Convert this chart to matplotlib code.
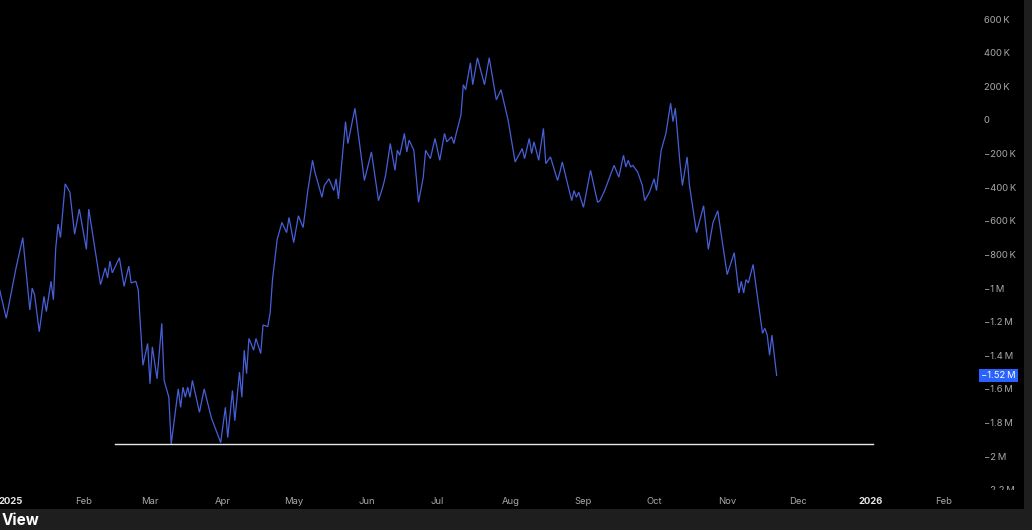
import numpy as np
import pandas as pd
import matplotlib
matplotlib.use("Agg")
import matplotlib.pyplot as plt
import matplotlib.transforms as mtransforms
from matplotlib.patches import Rectangle

plt.rcParams['font.family'] = ['Inter', 'DejaVu Sans']

# days since 2025-01-01 and value (thousands) of the traced series
days = [-5, -2, 2, 5, 8, 9, 10, 12, 14, 15, 17, 18, 19, 20, 21, 23, 25, 27, 29, 32,
        33, 38, 40, 41, 42, 43, 46, 48, 50, 51, 53, 54, 56, 58, 59, 60, 62, 64, 65, 67,
        68, 71, 72, 73, 74, 75, 76, 77, 80, 82, 85, 89, 91, 92, 94, 95, 97, 98, 99, 100,
        101, 103, 104, 106, 107, 109, 110, 111, 113, 115, 117, 118, 120, 122, 124, 126, 128, 129, 132, 133,
        135, 137, 138, 139, 142, 143, 146, 150, 153, 156, 158, 159, 161, 163, 164, 165, 167, 168, 169, 171,
        173, 175, 176, 178, 180, 182, 184, 185, 187, 188, 189, 191, 192, 193, 195, 196, 198, 201, 203, 206,
        208, 211, 214, 217, 218, 220, 221, 222, 224, 226, 227, 229, 232, 233, 234, 238, 239, 240, 241, 243,
        246, 249, 250, 252, 256, 258, 260, 261, 262, 263, 264, 266, 268, 269, 271, 273, 274, 276, 278, 280,
        281, 282, 284, 285, 287, 288, 291, 294, 296, 298, 300, 304, 307, 309, 310, 311, 312, 313, 315, 319,
        320, 321, 322, 323, 325]
values_k = [-1000, -1180, -890, -700, -1130, -1000, -1040, -1260, -1050, -1140, -960, -1070, -760, -620, -700, -380, -430, -680, -530, -770,
            -530, -980, -880, -940, -840, -910, -820, -990, -870, -970, -960, -1010, -1460, -1330, -1570, -1350, -1540, -1210, -1550, -1650,
            -1930, -1600, -1710, -1590, -1650, -1590, -1650, -1550, -1740, -1600, -1770, -1920, -1710, -1890, -1610, -1790, -1500, -1650, -1370, -1510,
            -1300, -1370, -1300, -1390, -1220, -1230, -1150, -950, -710, -610, -670, -580, -730, -570, -640, -420, -240, -310, -460, -390,
            -350, -420, -350, -470, -10, -140, 70, -360, -190, -480, -390, -330, -140, -300, -180, -210, -80, -190, -120, -180,
            -490, -340, -180, -230, -110, -240, -80, -130, -100, -140, -80, 30, 210, 180, 340, 210, 370, 210, 370, 120,
            180, 0, -250, -170, -230, -110, -200, -130, -240, -50, -260, -220, -360, -310, -250, -480, -420, -460, -430, -520,
            -300, -490, -480, -420, -270, -340, -210, -280, -240, -280, -270, -310, -390, -480, -430, -350, -420, -180, -80, 100,
            -10, 70, -260, -390, -220, -390, -670, -510, -770, -610, -540, -920, -790, -1030, -960, -1030, -950, -970, -860, -1270,
            -1240, -1280, -1400, -1280, -1520]

# horizontal level line
level_k = -1930
level_start, level_end = 44, 366

month_starts = pd.date_range('2025-01-01', '2026-02-01', freq='MS')
month_labels = ['2025', 'Feb', 'Mar', 'Apr', 'May', 'Jun', 'Jul', 'Aug',
                'Sep', 'Oct', 'Nov', 'Dec', '2026', 'Feb']
yticks_k = list(range(-2200, 601, 200))

base = np.datetime64('2025-01-01')
dates = base + np.array(days, dtype='timedelta64[D]')
values = np.array(values_k) * 1000.0


def fmt(v):
    if v == 0:
        return '0'
    sign = '\u2212' if v < 0 else ''
    a = abs(v)
    if a >= 1e6:
        return f'{sign}{a / 1e6:g}\u2009M'
    return f'{sign}{a / 1e3:g}\u2009K'


W, H = 1032, 530
fig = plt.figure(figsize=(W / 100, H / 100), dpi=100, facecolor='#1e1e1e')
# black chart panel (plot + date band)
fig.patches.append(Rectangle((0, 21 / H), 1024 / W, 1 - 21 / H, transform=fig.transFigure,
                             facecolor='black', edgecolor='none', zorder=-5))

ax = fig.add_axes([0, 40 / H, 1024 / W, 490 / H])
ax.set_zorder(2)
ax.set_facecolor('black')
for s in ax.spines.values():
    s.set_visible(False)

ax.plot(dates, values, color='#4760d8', lw=0.9, solid_joinstyle='miter')
ax.plot([base + np.timedelta64(level_start, 'D'), base + np.timedelta64(level_end, 'D')],
        [level_k * 1000, level_k * 1000], color='#e8e8e8', lw=1.0)

x0 = base + np.timedelta64(int(-4.67 * 24), 'h')
x1 = base + np.timedelta64(int(430 * 24), 'h')
ax.set_xlim(x0, x1)
ax.set_ylim(-2202e3, 714e3)

ax.set_xticks(month_starts)
ax.set_xticklabels(month_labels)
ax.tick_params(axis='x', length=0, pad=5, labelsize=6.8, colors='#a8a8a8')
for lbl in ax.get_xticklabels():
    if lbl.get_text() in ('2025', '2026'):
        lbl.set_color('#e6e6e6')
        lbl.set_fontweight('bold')

ax.yaxis.tick_right()
ax.set_yticks([v * 1000 for v in yticks_k])
ax.set_yticklabels([fmt(v * 1000) for v in yticks_k])
ax.tick_params(axis='y', length=0, pad=-29, labelsize=6.8, colors='#a8a8a8')
for t in ax.yaxis.get_major_ticks():
    t.label2.set_clip_on(True)
    t.label2.set_clip_box(ax.bbox)

# last value tag
tr = mtransforms.blended_transform_factory(ax.transAxes, ax.transData)
ax.text(981 / 1024, values[-1], fmt(-1.52e6), transform=tr, ha='left', va='center',
        fontsize=6.8, color='white', zorder=5,
        bbox=dict(boxstyle='square,pad=0.25', facecolor='#2962ff', edgecolor='none'))

fig.text(2 / W, 2 / H, 'View', color='white', fontsize=11, fontweight='bold',
         ha='left', va='bottom')

fig.savefig('out.png', dpi=100, facecolor=fig.get_facecolor())
